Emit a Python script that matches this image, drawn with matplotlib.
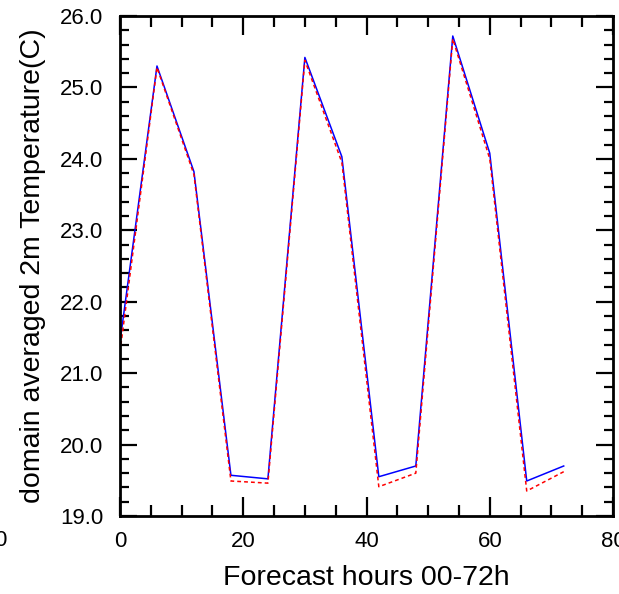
import numpy as np
import matplotlib
matplotlib.use("Agg")
import matplotlib.pyplot as plt
from matplotlib.ticker import MultipleLocator, FormatStrFormatter

plt.rcParams['font.family'] = ['Liberation Sans', 'DejaVu Sans']

# forecast hours and domain-mean 2m temperature for the two runs
hours = [0, 6, 12, 18, 24, 30, 36, 42, 48, 54, 60, 66, 72]
t2_blue = [21.44, 25.30, 23.82, 19.57, 19.52, 25.42, 24.03, 19.55, 19.70, 25.72, 24.08, 19.49, 19.70]
t2_red = [21.30, 25.28, 23.78, 19.49, 19.46, 25.38, 23.95, 19.41, 19.60, 25.68, 24.00, 19.35, 19.62]

fig = plt.figure(figsize=(6.19, 5.94), dpi=100)
ax = fig.add_axes([120/619, 78/594, 493/619, 500/594])

ax.plot(hours, t2_blue, color='#0000ff', lw=1.1)
ax.plot(hours, t2_red, color='#ff0000', lw=1.1, dashes=(2.5, 2))

ax.set_xlim(0, 80)
ax.set_ylim(19, 26)
ax.xaxis.set_major_locator(MultipleLocator(20))
ax.xaxis.set_minor_locator(MultipleLocator(5))
ax.yaxis.set_major_locator(MultipleLocator(1))
ax.yaxis.set_minor_locator(MultipleLocator(0.2))
ax.yaxis.set_major_formatter(FormatStrFormatter('%.1f'))

for s in ax.spines.values():
    s.set_linewidth(2.0)
ax.tick_params(which='both', direction='in', top=True, right=True, width=1.6)
ax.tick_params(axis='x', which='major', length=14, pad=11, labelsize=16)
ax.tick_params(axis='x', which='minor', length=8)
ax.tick_params(axis='y', which='major', length=12, pad=12, labelsize=16)
ax.tick_params(axis='y', which='minor', length=6.5)
for lab in ax.get_xticklabels() + ax.get_yticklabels():
    lab.set_fontweight('medium')

ax.set_xlabel('Forecast hours 00-72h', fontsize=20.5, labelpad=9)
ax.set_ylabel('domain averaged 2m Temperature(C)', fontsize=20.5, labelpad=10)

# leftover label from the neighbouring panel, cut at the edge
fig.text(0.0, 1 - 540/594, '0', fontsize=16, ha='center', va='center')

fig.savefig('out.png', dpi=100)
